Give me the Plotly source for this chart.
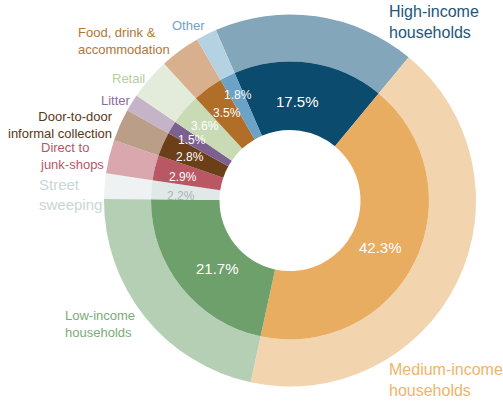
import plotly.graph_objects as go

# Waste sources and their share of the total (%)
categories = [
    "High-income households",
    "Medium-income households",
    "Low-income households",
    "Street sweeping",
    "Direct to junk-shops",
    "Door-to-door informal collection",
    "Litter",
    "Retail",
    "Food, drink & accommodation",
    "Other",
]
shares = [17.5, 42.3, 21.7, 2.2, 2.9, 2.8, 1.5, 3.6, 3.5, 1.8]

name_labels = [
    "High-income<br>households",
    "Medium-income<br>households",
    "Low-income<br>households",
    "Street<br>sweeping",
    "Direct to<br>junk-shops",
    "Door-to-door<br>informal collection",
    "Litter",
    "Retail",
    "Food, drink &<br>accommodation",
    "Other",
]

# Styling
inner_colors = ["#0b4b6e", "#e8ad61", "#6ea06c", "#e0e8e8", "#b95864",
                "#6b4018", "#7c6190", "#c9dbb5", "#b06e28", "#6aa3c6"]
outer_colors = ["#84a6ba", "#f2d5ae", "#b5cfb4", "#eef2f2", "#dba7af",
                "#bb9e87", "#c5b3c8", "#e3ecda", "#d9b08d", "#b4d2e2"]
name_colors = ["#21567a", "#efb46a", "#7aab78", "#c9d6d6", "#b65666",
               "#5a3716", "#8a6c9d", "#b5cf9c", "#b27638", "#6fa3c9"]
pct_colors = ["white"] * 3 + ["#a9b3b5"] + ["white"] * 6
pct_sizes = [15, 15, 15, 12, 12, 12, 12, 12, 12, 12]
name_sizes = [16, 16, 13, 15, 13, 13, 13, 13, 13, 13]

W, H = 503, 401
CX, CY = 290, 200.5
R_OUT, R_MID, R_HOLE = 186, 139, 70.5

# label anchors in pixels
pct_xy = [(297, 102), (380, 247), (217, 268), (181, 196), (183, 177),
          (190, 157), (192, 140), (205, 126), (227, 113), (238, 95)]
name_xy = [(387, 22, "left"), (387, 380, "left"), (63, 324, "left"),
           (37, 194, "left"), (38, 156, "left"), (115, 125, "right"),
           (99, 100, "left"), (110, 78, "left"), (76, 41, "left"),
           (170, 26, "left")]

FONT = "Liberation Sans, Arial, sans-serif"


def domain(r):
    return dict(x=[(CX - r) / W, (CX + r) / W],
                y=[1 - (CY + r) / H, 1 - (CY - r) / H])


fig = go.Figure()
fig.add_trace(go.Pie(
    labels=categories, values=shares, sort=False, direction="clockwise",
    rotation=-23.5, hole=R_MID / R_OUT, domain=domain(R_OUT),
    marker=dict(colors=outer_colors, line=dict(width=0)),
    textinfo="none", hoverinfo="skip", showlegend=False,
))
fig.add_trace(go.Pie(
    labels=categories, values=shares, sort=False, direction="clockwise",
    rotation=-23.5, hole=R_HOLE / R_MID, domain=domain(R_MID),
    marker=dict(colors=inner_colors, line=dict(width=0)),
    textinfo="none", hoverinfo="skip", showlegend=False,
))

annotations = []
for v, (px, py), c, s in zip(shares, pct_xy, pct_colors, pct_sizes):
    annotations.append(dict(
        x=px / W, y=1 - py / H, xref="paper", yref="paper",
        text=f"{v:.1f}%", showarrow=False, xanchor="center", yanchor="middle",
        font=dict(family=FONT, size=s, color=c),
    ))
for t, (px, py, al), c, s in zip(name_labels, name_xy, name_colors, name_sizes):
    annotations.append(dict(
        x=px / W, y=1 - py / H, xref="paper", yref="paper",
        text=t, showarrow=False, xanchor=al, yanchor="middle", align=al,
        font=dict(family=FONT, size=s, color=c),
    ))

fig.update_layout(
    width=W, height=H, margin=dict(l=0, r=0, t=0, b=0),
    paper_bgcolor="white", plot_bgcolor="white",
    annotations=annotations,
)
fig.write_html("out.html")
